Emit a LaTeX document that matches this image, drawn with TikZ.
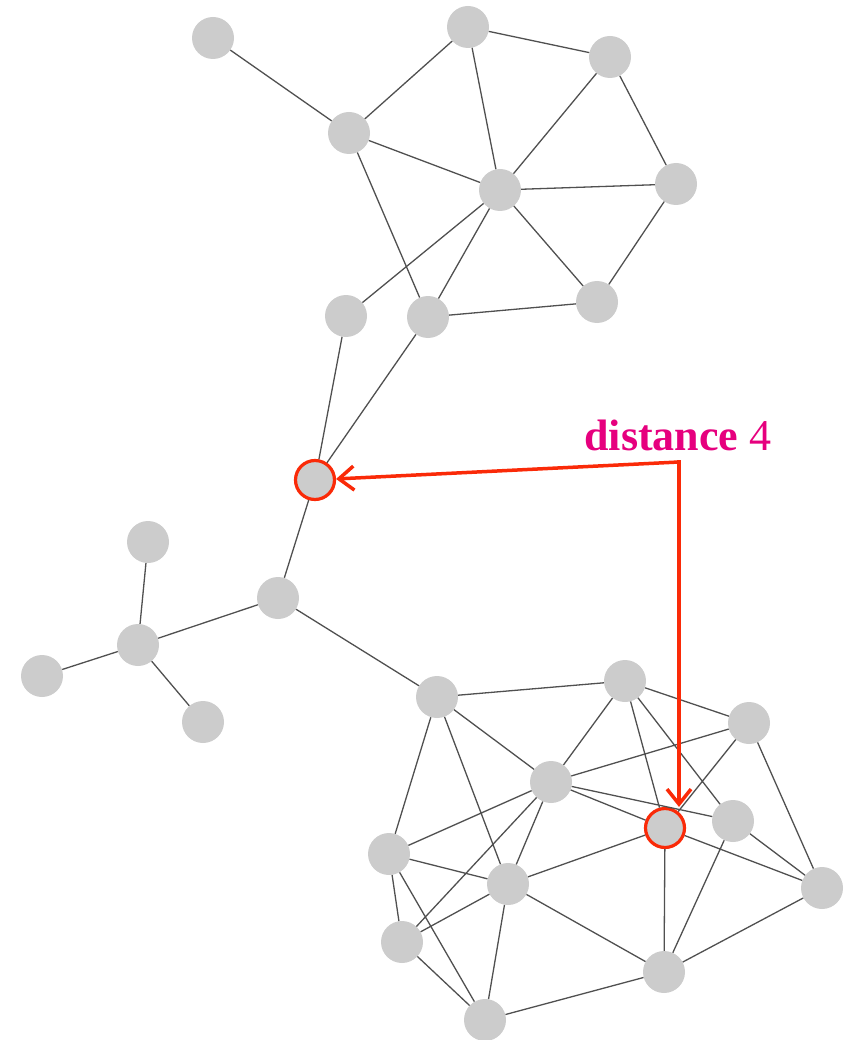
\documentclass[tikz,border=0pt]{standalone}
\usepackage{fontspec}
\setmainfont{Liberation Serif}
\usetikzlibrary{arrows.meta,calc}
\definecolor{nodegray}{RGB}{204,204,204}
\definecolor{edgegray}{RGB}{80,80,80}
\definecolor{markred}{RGB}{250,42,8}
\definecolor{labelpink}{RGB}{230,0,126}
\begin{document}
\begin{tikzpicture}[
    x=1pt, y=-1pt,
    vertex/.style={circle, fill=nodegray, draw=none, inner sep=0pt, minimum size=42pt},
    marked/.style={vertex, draw=markred, line width=3.2pt, minimum size=39pt},
    edge/.style={edgegray, line width=1.3pt},
    redarr/.style={-{Straight Barb[length=15pt, width=24pt, line width=3.5pt]}, markred, line width=3.5pt}
]
\useasboundingbox (0,0) rectangle (843,1040);
% upper group
\node[vertex] (t1) at (213,38) {};
\node[vertex] (t2) at (468,27) {};
\node[vertex] (t3) at (610,57) {};
\node[vertex] (t4) at (349,133) {};
\node[vertex] (t5) at (500,190) {};
\node[vertex] (t6) at (676,184) {};
\node[vertex] (t7) at (346,316) {};
\node[vertex] (t8) at (428,317) {};
\node[vertex] (t9) at (597,302) {};
% middle part
\node[marked] (r1) at (315,480) {};
\node[vertex] (m1) at (278,598) {};
\node[vertex] (m2) at (138,645) {};
\node[vertex] (m3) at (148,542) {};
\node[vertex] (m4) at (42,676) {};
\node[vertex] (m5) at (203,722) {};
% lower group
\node[vertex] (b1) at (437,697) {};
\node[vertex] (b2) at (625,681) {};
\node[vertex] (b3) at (749,723) {};
\node[vertex] (b4) at (551,782) {};
\node[marked] (r2) at (665,828) {};
\node[vertex] (b5) at (733,821) {};
\node[vertex] (b6) at (389,854) {};
\node[vertex] (b7) at (508,884) {};
\node[vertex] (b8) at (822,888) {};
\node[vertex] (b9) at (402,942) {};
\node[vertex] (b10) at (664,972) {};
\node[vertex] (b11) at (485,1020) {};

\draw[edge] (t1)--(t4) (t4)--(t2) (t2)--(t3) (t2)--(t5) (t3)--(t5) (t3)--(t6)
    (t4)--(t5) (t4)--(t8) (t5)--(t6) (t5)--(t7) (t5)--(t8) (t5)--(t9)
    (t6)--(t9) (t8)--(t9);
\draw[edge] (t7)--(r1) (t8)--(r1) (r1)--(m1) (m1)--(m2) (m2)--(m3) (m2)--(m4)
    (m2)--(m5) (m1)--(b1);
\draw[edge] (b1)--(b2) (b1)--(b4) (b1)--(b6) (b1)--(b7) (b2)--(b3) (b2)--(b4)
    (b2)--(r2) (b2)--(b5) (b3)--(b4) (b3)--(r2) (b3)--(b8) (b4)--(b6)
    (b4)--(b9) (b4)--(b7) (b4)--(r2) (b4)--(b5) (b6)--(b7) (b6)--(b9)
    (b6)--(b11) (b7)--(b9) (b7)--(r2) (b7)--(b10) (b7)--(b11) (b9)--(b11)
    (b11)--(b10) (r2)--(b10) (r2)--(b8) (b5)--(b10) (b5)--(b8) (b8)--(b10);

% distance marker
\coordinate (k) at (679,462);
\draw[redarr] (k) -- (r1);
\draw[redarr] (k) -- (k |- r2.north);
\draw[markred, line width=3.5pt] (k) -- ++(0,-1.75);
\node[anchor=base, text=labelpink, font=\fontsize{44}{50}\selectfont] (lbl) at (678,450) {\textbf{distance} 4};
\end{tikzpicture}
\end{document}
